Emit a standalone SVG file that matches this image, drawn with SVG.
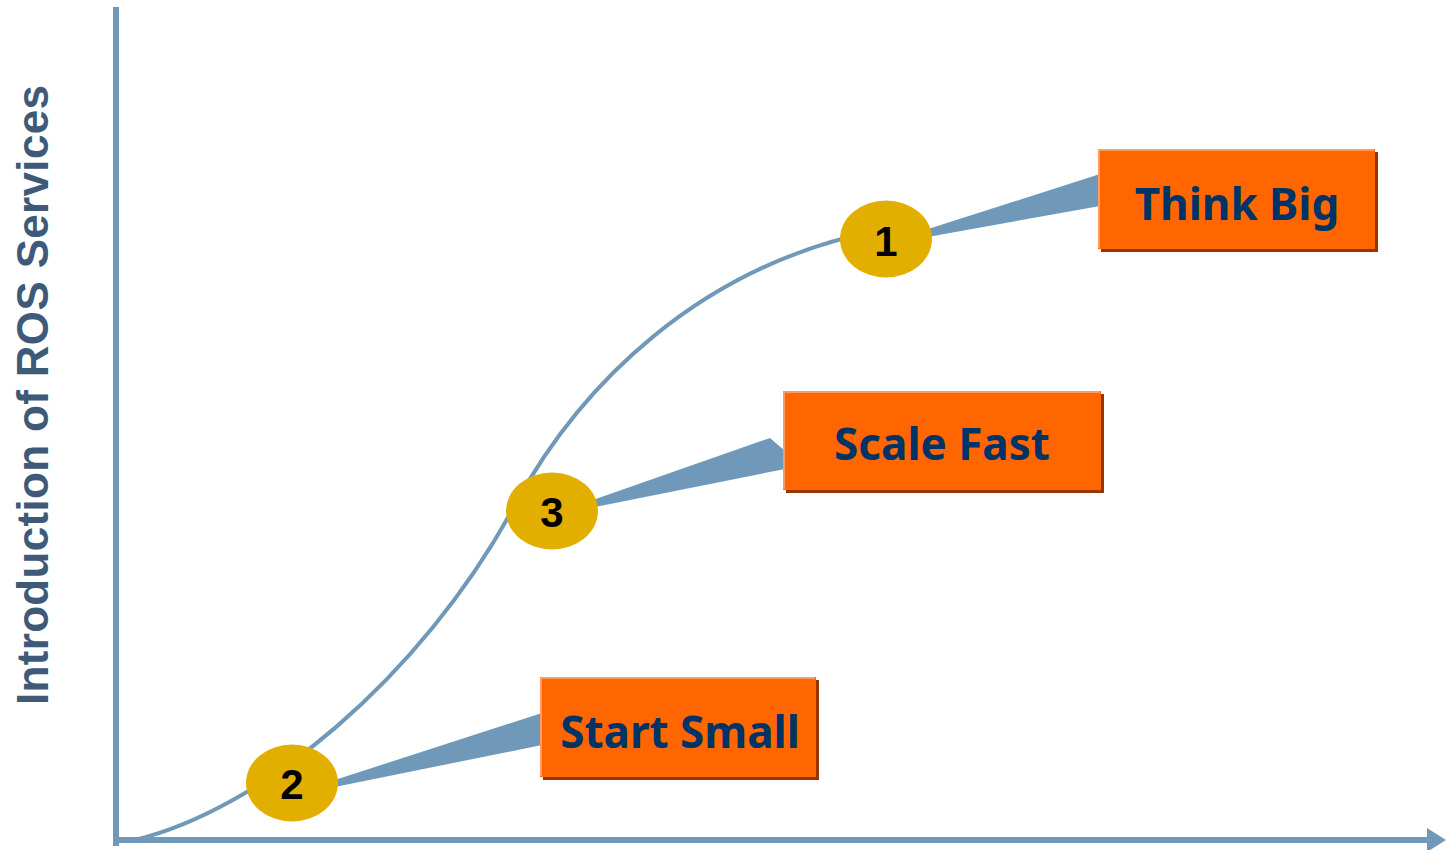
<svg xmlns="http://www.w3.org/2000/svg" width="1446" height="850" viewBox="0 0 1446 850">
<style>
.axis{stroke:#7099b9;stroke-width:6;fill:none}
.curve{stroke:#7099b9;stroke-width:4;fill:none}
.wedge{fill:#7099b9}
.shadow{fill:#993300}
.box{fill:#ff6600}
.hl{stroke:#ff9966;stroke-width:2;fill:none}
.lbl{font-family:"Noto Sans","Liberation Sans",sans-serif;font-weight:bold;font-size:44px;fill:#003366;text-anchor:middle}
.dot{fill:#e2ae00}
.num{font-family:"Liberation Sans",Arial,sans-serif;font-weight:bold;font-size:42px;fill:#000;text-anchor:middle}
.ylbl{font-family:"Liberation Sans",Arial,sans-serif;font-weight:bold;font-size:44px;fill:#3e5a78;text-anchor:middle}
</style>
<rect width="1446" height="850" fill="#ffffff"/>
<g id="axes">
<line class="axis" x1="116" y1="7" x2="116" y2="846"/>
<line class="axis" x1="113" y1="840" x2="1430" y2="840"/>
<polygon fill="#7099b9" points="1427,828 1446,840 1427,852"/>
</g>
<text class="ylbl" transform="translate(48,395) rotate(-90)" textLength="620" lengthAdjust="spacing">Introduction of ROS Services</text>
<g id="connectors">
<path class="curve" d="M135,840 C260,810 420,680 515,505 C580,385 700,265 880,230"/>
<polygon class="wedge" points="900,238 1100,174 1100,206 900,242"/>
<polygon class="wedge" points="570,508 770,438 785,451 785,469 570,512"/>
<polygon class="wedge" points="310,788 542,713 542,745 310,792"/>
</g>
<g id="node-think-big">
<rect class="shadow" x="1101" y="152" width="277" height="100"/>
<rect class="box" x="1098" y="149" width="277" height="100"/>
<polyline class="hl" points="1099,248 1099,150 1374,150"/>
<text class="lbl" x="1237" y="220">Think Big</text>
</g>
<g id="node-scale-fast">
<rect class="shadow" x="786" y="394" width="318" height="99"/>
<rect class="box" x="783" y="391" width="318" height="99"/>
<polyline class="hl" points="784,489 784,392 1100,392"/>
<text class="lbl" x="942" y="460">Scale Fast</text>
</g>
<g id="node-start-small">
<rect class="shadow" x="543" y="680" width="276" height="100"/>
<rect class="box" x="540" y="677" width="276" height="100"/>
<polyline class="hl" points="541,776 541,678 815,678"/>
<text class="lbl" x="680" y="748">Start Small</text>
</g>
<g id="node-1">
<ellipse class="dot" cx="886" cy="239" rx="46" ry="38.5"/>
<text class="num" x="886" y="256">1</text>
</g>
<g id="node-3">
<ellipse class="dot" cx="552" cy="511" rx="46" ry="38.5"/>
<text class="num" x="552" y="527">3</text>
</g>
<g id="node-2">
<ellipse class="dot" cx="292" cy="783" rx="46" ry="38.5"/>
<text class="num" x="292" y="799">2</text>
</g>
</svg>
